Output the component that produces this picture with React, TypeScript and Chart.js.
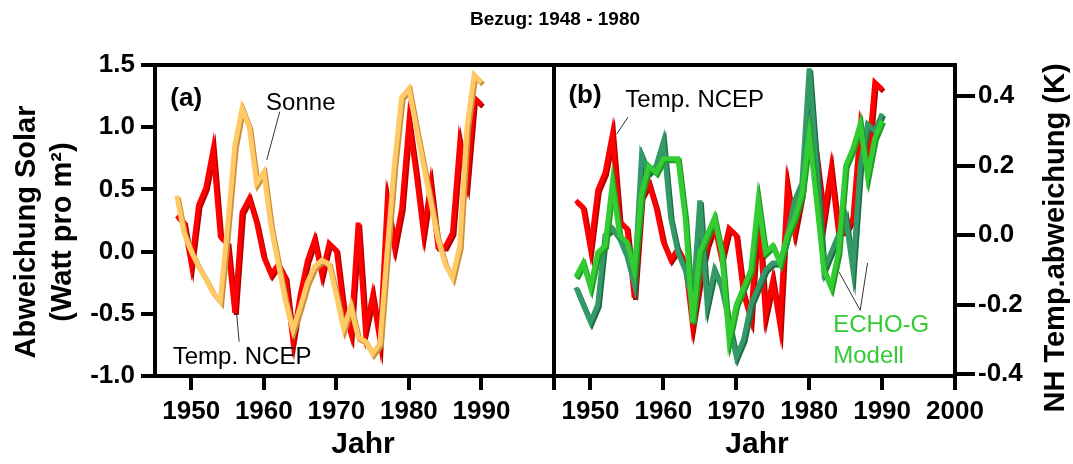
import React, { useEffect, useRef } from "react";
import { Chart, registerables } from "chart.js";

Chart.register(...registerables);

const W = 1073;
const H = 464;
const FONT = "'Liberation Sans', Arial, Helvetica, sans-serif";

// ---------------- data ----------------
const years = [
  1948, 1949, 1950, 1951, 1952, 1953, 1954, 1955, 1956, 1957,
  1958, 1959, 1960, 1961, 1962, 1963, 1964, 1965, 1966, 1967,
  1968, 1969, 1970, 1971, 1972, 1973, 1974, 1975, 1976, 1977,
  1978, 1979, 1980, 1981, 1982, 1983, 1984, 1985, 1986, 1987,
  1988, 1989, 1990,
];

// NH temperature anomaly, NCEP (K)
const ncepTemp = [
  0.10, 0.08, -0.04, 0.13, 0.18, 0.29, 0.04, 0.02, -0.18, 0.11,
  0.15, 0.08, -0.02, -0.07, -0.04, -0.08, -0.26, -0.13, -0.03, 0.03,
  -0.07, 0.02, 0.00, -0.17, -0.24, 0.08, -0.23, -0.13, -0.26, 0.14,
  0.01, 0.12, 0.37, 0.22, 0.05, 0.19, 0.01, 0.01, 0.05, 0.31,
  0.20, 0.44, 0.42,
];

// Solar forcing anomaly (W/m2)
const sonneSolar = [
  0.45, 0.15, 0.0, -0.12, -0.22, -0.33, -0.40, 0.2, 0.85, 1.15,
  1.0, 0.55, 0.64, 0.2, -0.1, -0.4, -0.63, -0.45, -0.25, -0.12,
  -0.07, -0.1, -0.35, -0.62, -0.44, -0.69, -0.72, -0.82, -0.74, 0.0,
  0.7, 1.24, 1.31, 1.0, 0.7, 0.4, 0.1, -0.1, -0.21, 0.04,
  1.0, 1.42, 1.36,
];

// ECHO-G model run (dark green), K
const echoRunDark = [
  -0.15, -0.2, -0.25, -0.2, 0.0, 0.02, -0.01, -0.06, -0.14, 0.23,
  0.18, 0.2, 0.27, 0.05, -0.05, -0.1, -0.2, 0.1, -0.2, -0.1,
  -0.15, -0.25, -0.35, -0.3, -0.2, -0.15, -0.1, -0.08, -0.08, 0.0,
  0.1, 0.15, 0.48, 0.2, -0.1, -0.05, 0.0, 0.05, -0.1, 0.2,
  0.32, 0.3, 0.35,
];

// ECHO-G model run (light green), K
const echoRunLight = [
  -0.12, -0.08, -0.15, -0.05, -0.03, 0.15, 0.0, -0.02, -0.1, 0.12,
  0.2, 0.18, 0.22, 0.22, 0.22, 0.05, -0.25, -0.05, 0.0, 0.05,
  -0.05, -0.3, -0.2, -0.15, -0.1, 0.1, -0.05, -0.03, -0.08, 0.0,
  0.05, 0.12, 0.29, 0.1, -0.1, -0.15, -0.05, 0.2, 0.25, 0.32,
  0.17, 0.28, 0.33,
];

// axis ticks
const leftYTicks = [-1.0, -0.5, 0.0, 0.5, 1.0, 1.5];
const leftXTicks = [1950, 1960, 1970, 1980, 1990, 2000];
const leftXLabels = ["1950", "1960", "1970", "1980", "1990", ""];
const rightXTicks = [1945, 1950, 1960, 1970, 1980, 1990, 2000];
const rightXLabels = ["", "1950", "1960", "1970", "1980", "1990", "2000"];
const rightYTicks = [-0.4, -0.2, 0.0, 0.2, 0.4];

// ---------------- layout (pixels) ----------------
const PLOT_TOP = 65;
const PLOT_BOTTOM = 376;
const LEFT_L = 155;
const DIVIDER = 554;
const RIGHT_R = 955;

const pts = (vals: number[]) => years.map((y, i) => ({ x: y, y: vals[i] }));

const shadePlugin = {
  id: "shade",
  beforeDatasetDraw(chart: any, args: any) {
    const ds = chart.data.datasets[args.index];
    const ctx = chart.ctx;
    ctx.save();
    ctx.shadowColor = ds.shadeColor || "rgba(0,0,0,0.4)";
    ctx.shadowOffsetX = 1.5;
    ctx.shadowOffsetY = 2;
    ctx.shadowBlur = 0;
  },
  afterDatasetDraw(chart: any) {
    chart.ctx.restore();
  },
};

const framePlugin = {
  id: "frame",
  afterDatasetsDraw(chart: any) {
    const { ctx, chartArea } = chart;
    ctx.save();
    ctx.strokeStyle = "#000";
    ctx.lineWidth = 4;
    ctx.strokeRect(chartArea.left, chartArea.top, chartArea.right - chartArea.left, chartArea.bottom - chartArea.top);
    ctx.restore();
  },
};

type Note = { text: string; x: number; y: number; font: string; color?: string; align?: CanvasTextAlign; rotate?: boolean; pixel?: boolean };
type Pointer = { x1: number; y1: number; x2: number; y2: number };

const notesPlugin = {
  id: "notes",
  afterDraw(chart: any, _args: any, opts: any) {
    const ctx = chart.ctx;
    const xs = chart.scales.x;
    const ys = chart.scales[opts.yAxis];
    const px = (n: any) => (n.pixel ? n.x : xs.getPixelForValue(n.x));
    const py = (n: any) => (n.pixel ? n.y : ys.getPixelForValue(n.y));
    ctx.save();
    (opts.lines || []).forEach((l: Pointer) => {
      ctx.strokeStyle = "#333";
      ctx.lineWidth = 1;
      ctx.beginPath();
      ctx.moveTo(xs.getPixelForValue(l.x1), ys.getPixelForValue(l.y1));
      ctx.lineTo(xs.getPixelForValue(l.x2), ys.getPixelForValue(l.y2));
      ctx.stroke();
    });
    (opts.texts || []).forEach((n: Note) => {
      ctx.save();
      ctx.font = n.font;
      ctx.fillStyle = n.color || "#000";
      ctx.textAlign = n.align || "center";
      ctx.textBaseline = "middle";
      ctx.translate(px(n), py(n));
      if (n.rotate) ctx.rotate(-Math.PI / 2);
      ctx.fillText(n.text, 0, 0);
      ctx.restore();
    });
    ctx.restore();
  },
};

const tickFont = { family: FONT, size: 26, weight: "bold" as const };

function axisGrid(len: number) {
  return {
    display: true,
    drawOnChartArea: false,
    drawTicks: true,
    tickLength: len,
    lineWidth: 4,
    color: "#000",
    tickColor: "#000",
  };
}

function lineDs(label: string, vals: number[], color: string, shade: string, yAxisID: string, order: number) {
  return {
    label,
    data: pts(vals),
    borderColor: color,
    shadeColor: shade,
    borderWidth: 5,
    pointRadius: 0,
    fill: false,
    tension: 0,
    yAxisID,
    order,
  } as any;
}

function leftConfig(): any {
  return {
    type: "line",
    data: {
      datasets: [
        lineDs("Sonne", sonneSolar, "#FFC966", "#C8903A", "y", 0),
        lineDs("Temp. NCEP", ncepTemp, "#FF0000", "#B00000", "yT", 1),
      ],
    },
    options: {
      responsive: false,
      animation: false,
      events: [],
      layout: { padding: { left: 0, right: W - DIVIDER, top: PLOT_TOP, bottom: 0 } },
      plugins: {
        legend: { display: false },
        tooltip: { enabled: false },
        notes: {
          yAxis: "y",
          texts: [
            { text: "(a)", x: 1949.3, y: 1.227, font: `bold 26px ${FONT}` },
            { text: "Sonne", x: 1965.1, y: 1.195, font: `24px ${FONT}` },
            { text: "Temp. NCEP", x: 1957.0, y: -0.847, font: `24px ${FONT}` },
            { text: "Abweichung Solar", x: 27, y: 232, font: `bold 29px ${FONT}`, rotate: true, pixel: true },
            { text: "(Watt pro m²)", x: 63, y: 232, font: `bold 29px ${FONT}`, rotate: true, pixel: true },
            { text: "Jahr", x: 363, y: 445, font: `bold 30px ${FONT}`, pixel: true },
          ],
          lines: [
            { x1: 1962.2, y1: 1.125, x2: 1960.4, y2: 0.736 },
            { x1: 1956.6, y1: -0.724, x2: 1956.25, y2: -0.496 },
          ],
        },
      },
      scales: {
        x: {
          type: "linear",
          min: 1945,
          max: 2000,
          afterBuildTicks: (s: any) => {
            s.ticks = leftXTicks.map((v) => ({ value: v }));
          },
          afterFit: (s: any) => {
            s.height = H - PLOT_BOTTOM;
          },
          ticks: {
            font: tickFont,
            color: "#000",
            padding: 6,
            maxRotation: 0,
            autoSkip: false,
            callback: (_v: any, i: number) => leftXLabels[i],
          },
          grid: axisGrid(14),
          border: { display: false },
        },
        y: {
          position: "left",
          min: -1,
          max: 1.5,
          afterBuildTicks: (s: any) => {
            s.ticks = leftYTicks.map((v) => ({ value: v }));
          },
          afterFit: (s: any) => {
            s.width = LEFT_L;
          },
          ticks: {
            font: tickFont,
            color: "#000",
            padding: 6,
            callback: (v: any) => Number(v).toFixed(1),
          },
          grid: axisGrid(14),
          border: { display: false },
        },
        yT: {
          display: false,
          min: -0.362,
          max: 0.534,
        },
      },
    },
    plugins: [shadePlugin, framePlugin, notesPlugin],
  };
}

function rightConfig(): any {
  return {
    type: "line",
    data: {
      datasets: [
        lineDs("ECHO-G (b)", echoRunLight, "#33CC33", "#1F9A22", "y", 0),
        lineDs("ECHO-G (a)", echoRunDark, "#339966", "#1E6B46", "y", 1),
        lineDs("Temp. NCEP", ncepTemp, "#FF0000", "#B00000", "y", 2),
      ],
    },
    options: {
      responsive: false,
      animation: false,
      events: [],
      layout: { padding: { left: DIVIDER, right: 0, top: PLOT_TOP, bottom: 0 } },
      plugins: {
        legend: { display: false },
        tooltip: { enabled: false },
        notes: {
          yAxis: "y",
          texts: [
            { text: "(b)", x: 1949.25, y: 0.40, font: `bold 26px ${FONT}` },
            { text: "Temp. NCEP", x: 1964.3, y: 0.389, font: `24px ${FONT}` },
            { text: "ECHO-G", x: 1983.3, y: -0.259, font: `24px ${FONT}`, color: "#33CC33", align: "left" },
            { text: "Modell", x: 1983.3, y: -0.349, font: `24px ${FONT}`, color: "#33CC33", align: "left" },
            { text: "Jahr", x: 757, y: 445, font: `bold 30px ${FONT}`, pixel: true },
            { text: "NH Temp.abweichung (K)", x: 1056, y: 238, font: `bold 29px ${FONT}`, rotate: true, pixel: true },
            { text: "Bezug: 1948 - 1980", x: 555, y: 20, font: `bold 19px ${FONT}`, pixel: true },
          ],
          lines: [
            { x1: 1955.15, y1: 0.34, x2: 1953.6, y2: 0.291 },
            { x1: 1987.0, y1: -0.216, x2: 1984.1, y2: -0.106 },
            { x1: 1987.0, y1: -0.216, x2: 1988.0, y2: -0.08 },
          ],
        },
      },
      scales: {
        x: {
          type: "linear",
          min: 1945,
          max: 2000,
          afterBuildTicks: (s: any) => {
            s.ticks = rightXTicks.map((v) => ({ value: v }));
          },
          afterFit: (s: any) => {
            s.height = H - PLOT_BOTTOM;
          },
          ticks: {
            font: tickFont,
            color: "#000",
            padding: 6,
            maxRotation: 0,
            autoSkip: false,
            callback: (_v: any, i: number) => rightXLabels[i],
          },
          grid: axisGrid(14),
          border: { display: false },
        },
        y: {
          position: "right",
          min: -0.405,
          max: 0.49,
          afterBuildTicks: (s: any) => {
            s.ticks = rightYTicks.map((v) => ({ value: v }));
          },
          afterFit: (s: any) => {
            s.width = W - RIGHT_R;
          },
          ticks: {
            font: tickFont,
            color: "#000",
            padding: 3,
            callback: (v: any) => Number(v).toFixed(1),
          },
          grid: axisGrid(20),
          border: { display: false },
        },
      },
    },
    plugins: [shadePlugin, framePlugin, notesPlugin],
  };
}

export default function App() {
  const leftRef = useRef<HTMLCanvasElement>(null);
  const rightRef = useRef<HTMLCanvasElement>(null);

  useEffect(() => {
    const left = new Chart(leftRef.current as HTMLCanvasElement, leftConfig());
    const right = new Chart(rightRef.current as HTMLCanvasElement, rightConfig());
    return () => {
      left.destroy();
      right.destroy();
    };
  }, []);

  return (
    <div style={{ position: "absolute", left: 0, top: 0, width: W, height: H, background: "#fff", overflow: "hidden" }}>
      <canvas ref={leftRef} width={W} height={H} style={{ position: "absolute", left: 0, top: 0 }} />
      <canvas ref={rightRef} width={W} height={H} style={{ position: "absolute", left: 0, top: 0 }} />
    </div>
  );
}
